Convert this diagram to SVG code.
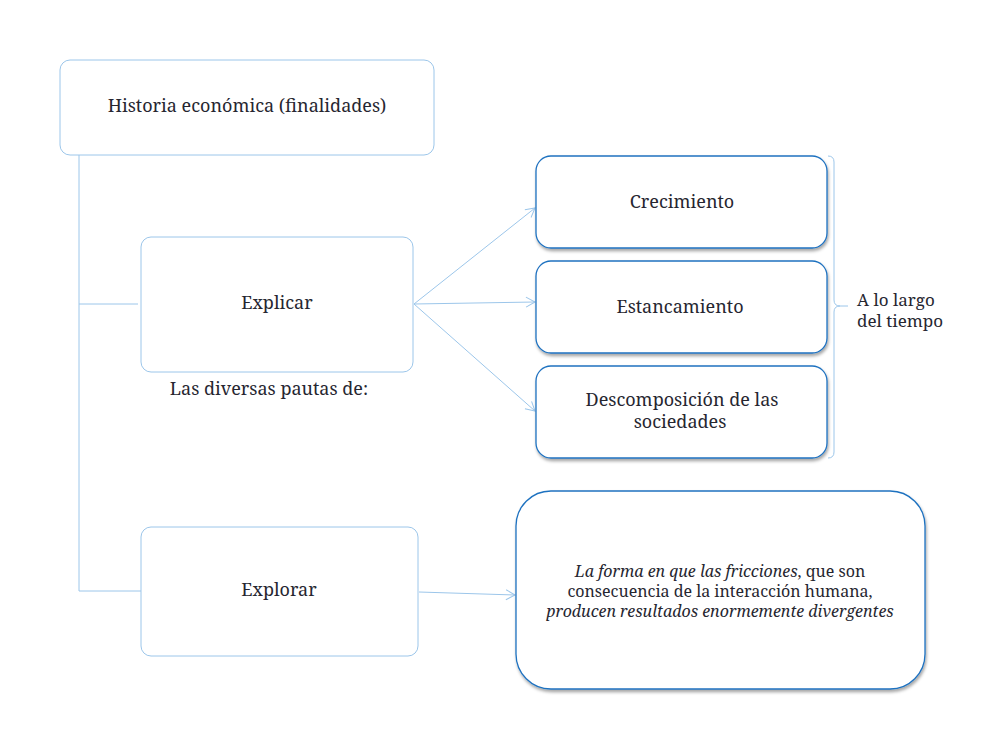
<svg xmlns="http://www.w3.org/2000/svg" width="1000" height="750" viewBox="0 0 1000 750">
<style>
.t{font-size:18px;fill:#262630;text-anchor:middle}
.s{font-size:16px}
.m{font-size:17px}
.lt{fill:#fff;stroke:#9cc6ea;stroke-width:1}
.dk{fill:#fff;stroke:#1f72c0;stroke-width:1.3;filter:url(#sh)}
.c{fill:none;stroke:#9cc6ea;stroke-width:1}
</style>
<defs>
<filter id="sh" x="-10%" y="-10%" width="120%" height="130%">
<feDropShadow dx="1" dy="2.5" stdDeviation="1.5" flood-color="#000" flood-opacity="0.35"/>
</filter>
<marker id="ar" markerWidth="12" markerHeight="12" refX="10" refY="6" orient="auto" markerUnits="userSpaceOnUse">
<path d="M1,1 L10,6 L1,11" fill="none" stroke="#9cc6ea" stroke-width="1"/>
</marker>
</defs>
<g id="connectors">
<path class="c" d="M79,155 V591 H143 M79,304 H138"/>
<line class="c" x1="414" y1="304" x2="535" y2="208" marker-end="url(#ar)"/>
<path class="c" d="M414,304 L535,302" marker-end="url(#ar)"/>
<line class="c" x1="414" y1="304" x2="535" y2="411" marker-end="url(#ar)"/>
<path class="c" d="M419,592 L515,595" marker-end="url(#ar)"/>
<path class="c" d="M828,156 Q834,156 834,162 V300 Q834,306 840,306 H848 M840,306 Q834,306 834,312 V452 Q834,458 828,458"/>
</g>
<g id="nodes" font-family="Noto Serif, Liberation Serif, serif">
<g id="n-historia">
<rect class="lt" x="60" y="60" width="374" height="95" rx="10"/>
<text class="t" x="247" y="112">Historia económica (finalidades)</text>
</g>
<g id="n-explicar">
<rect class="lt" x="141" y="237" width="272" height="135" rx="10"/>
<text class="t" x="277" y="309">Explicar</text>
</g>
<text id="n-pautas" class="t" x="269" y="395">Las diversas pautas de:</text>
<g id="n-explorar">
<rect class="lt" x="141" y="527" width="277" height="129" rx="10"/>
<text class="t" x="279" y="596">Explorar</text>
</g>
<g id="n-crecimiento">
<rect class="dk" x="536" y="156" width="291" height="92" rx="15"/>
<text class="t" x="682" y="208">Crecimiento</text>
</g>
<g id="n-estancamiento">
<rect class="dk" x="536" y="261" width="291" height="92" rx="15"/>
<text class="t" x="680" y="313">Estancamiento</text>
</g>
<g id="n-descomposicion">
<rect class="dk" x="536" y="366" width="291" height="92" rx="15"/>
<text class="t" x="682" y="406">Descomposición de las</text>
<text class="t" x="680" y="428">sociedades</text>
</g>
<g id="n-tiempo">
<text class="t m" x="857" y="306" text-anchor="start" style="text-anchor:start">A lo largo</text>
<text class="t m" x="857" y="327" text-anchor="start" style="text-anchor:start">del tiempo</text>
</g>
<g id="n-forma">
<rect class="dk" x="516" y="491" width="409" height="198" rx="35"/>
<text class="t s" x="720" y="577"><tspan font-style="italic">La forma en que las fricciones</tspan>, que son</text>
<text class="t s" x="720" y="597">consecuencia de la interacción humana,</text>
<text class="t s" x="720" y="617" font-style="italic">producen resultados enormemente divergentes</text>
</g>
</g>
</svg>
